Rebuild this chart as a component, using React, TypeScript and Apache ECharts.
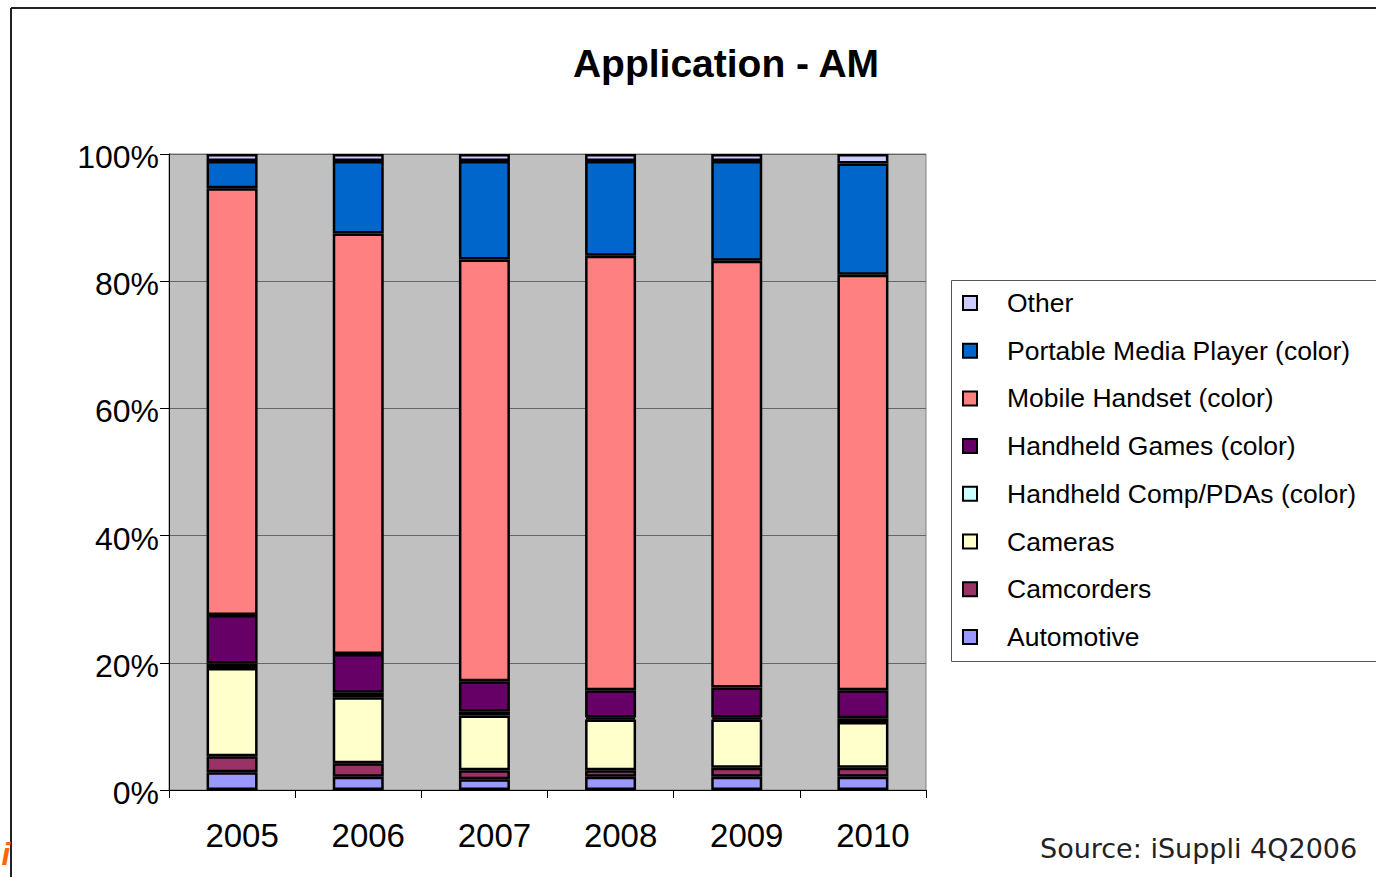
import React, { useEffect, useRef } from "react";
import * as echarts from "echarts";

const years = ["2005", "2006", "2007", "2008", "2009", "2010"];
const automotive = [2.8, 2.1, 1.7, 2.1, 2.1, 2.1];
const camcorders = [2.5, 2.1, 1.4, 1.0, 1.4, 1.4];
const cameras = [13.9, 10.4, 8.6, 8.0, 7.6, 7.2];
const pdas = [0.7, 0.7, 0.6, 0.3, 0.3, 0.6];
const games = [7.6, 6.1, 4.8, 4.3, 4.7, 4.4];
const mobile = [67.1, 66.1, 66.3, 68.3, 67.1, 65.3];
const pmp = [4.3, 11.4, 15.5, 14.9, 15.7, 17.5];
const other = [1.1, 1.1, 1.1, 1.1, 1.1, 1.5];
const yTicks = [0, 20, 40, 60, 80, 100];

const seriesDefs = [
  { name: "Automotive", data: automotive, color: "#9999FF" },
  { name: "Camcorders", data: camcorders, color: "#993366" },
  { name: "Cameras", data: cameras, color: "#FFFFCC" },
  { name: "Handheld Comp/PDAs (color)", data: pdas, color: "#CCFFFF" },
  { name: "Handheld Games (color)", data: games, color: "#660066" },
  { name: "Mobile Handset (color)", data: mobile, color: "#FF8080" },
  { name: "Portable Media Player (color)", data: pmp, color: "#0066CC" },
  { name: "Other", data: other, color: "#CCCCFF" },
];

const FONT = "'Liberation Sans', Arial, sans-serif";

export default function App() {
  const ref = useRef<HTMLDivElement>(null);
  useEffect(() => {
    if (!ref.current) return;
    const chart = echarts.init(ref.current, null, { renderer: "svg" });
    chart.setOption({
      animation: false,
      backgroundColor: "#ffffff",
      grid: {
        left: 169,
        top: 154,
        width: 757,
        height: 636,
        show: true,
        backgroundColor: "#C0C0C0",
        borderColor: "#808080",
        borderWidth: 1,
        containLabel: false,
      },
      xAxis: {
        type: "category",
        data: years,
        axisLine: { show: true, lineStyle: { color: "#000", width: 1 } },
        axisTick: { show: true, length: 8, lineStyle: { color: "#000" } },
        axisLabel: {
          fontFamily: FONT,
          fontSize: 33,
          color: "#000",
          margin: 29,
          padding: [0, 0, 0, 20],
        },
        splitLine: { show: false },
      },
      yAxis: {
        type: "value",
        min: yTicks[0],
        max: yTicks[yTicks.length - 1],
        interval: 20,
        axisLine: { show: true, lineStyle: { color: "#000", width: 1 } },
        axisTick: { show: true, length: 9, lineStyle: { color: "#000" } },
        axisLabel: {
          fontFamily: FONT,
          fontSize: 32,
          color: "#000",
          margin: 10,
          verticalAlign: "top",
          lineHeight: 6,
          formatter: "{value}%",
        },
        splitLine: { show: true, lineStyle: { color: "#666", width: 1 } },
      },
      legend: {
        orient: "vertical",
        left: 962,
        top: 289,
        padding: 0,
        z: 10,
        itemWidth: 14,
        itemHeight: 14,
        itemGap: 19.7,
        icon: "rect",
        data: seriesDefs.map((s) => s.name).reverse(),
        itemStyle: { borderColor: "#000", borderWidth: 2 },
        textStyle: {
          fontFamily: FONT,
          fontSize: 26.5,
          color: "#000",
          lineHeight: 28,
          padding: [0, 0, 0, 25],
        },
      },
      graphic: [
        {
          type: "rect",
          z: 1,
          shape: { x: 951.5, y: 280.5, width: 440, height: 381 },
          style: { fill: "#fff", stroke: "#555", lineWidth: 1 },
        },
        {
          type: "line",
          z: 1,
          shape: { x1: 11, y1: 8, x2: 11, y2: 877 },
          style: { stroke: "#222", lineWidth: 2 },
        },
        {
          type: "line",
          z: 1,
          shape: { x1: 11, y1: 8, x2: 1376, y2: 8 },
          style: { stroke: "#222", lineWidth: 2 },
        },
        {
          type: "text",
          z: 1,
          x: 726,
          y: 63,
          style: {
            text: "Application - AM",
            fontFamily: FONT,
            fontSize: 39,
            fontWeight: "bold",
            fill: "#000",
            textAlign: "center",
            textVerticalAlign: "middle",
          },
        },
        {
          type: "text",
          z: 1,
          x: 1040,
          y: 848,
          style: {
            text: "Source: iSuppli 4Q2006",
            fontFamily: "'DejaVu Sans', sans-serif",
            fontSize: 27,
            fill: "#222",
            textAlign: "left",
            textVerticalAlign: "middle",
          },
        },
        {
          type: "text",
          z: 1,
          x: 10,
          y: 854,
          style: {
            text: "i",
            fontFamily: FONT,
            fontSize: 31,
            fontWeight: "bold",
            fontStyle: "italic",
            fill: "#FF6600",
            textAlign: "right",
            textVerticalAlign: "middle",
          },
        },
      ],
      series: seriesDefs.map((s) => ({
        name: s.name,
        type: "bar",
        stack: "total",
        barWidth: 51,
        data: s.data,
        itemStyle: { color: s.color, borderColor: "#000", borderWidth: 2.5 },
        emphasis: { disabled: true },
      })),
    });
    return () => chart.dispose();
  }, []);
  return (
    <div
      ref={ref}
      style={{ position: "fixed", left: 0, top: 0, width: 1376, height: 877 }}
    />
  );
}
